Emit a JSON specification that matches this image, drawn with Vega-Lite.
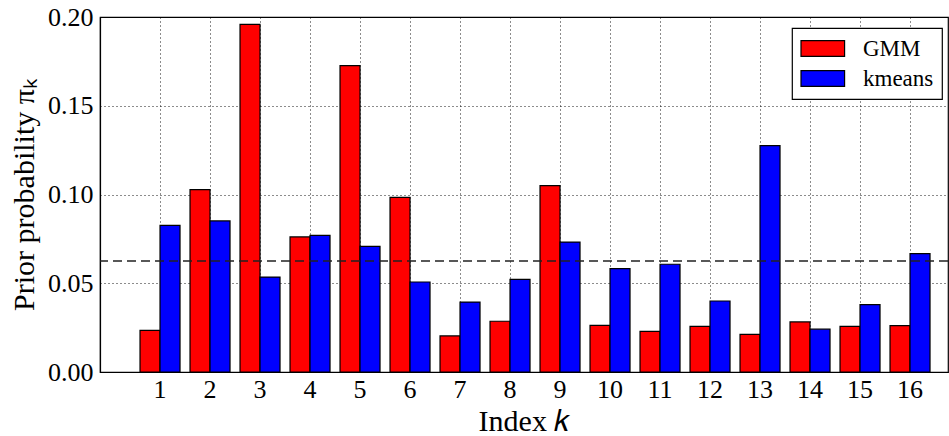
{
  "$schema": "https://vega.github.io/schema/vega-lite/v6.json",
  "width": 848,
  "height": 355,
  "autosize": {"type": "none"},
  "padding": {"left": 100, "top": 17, "right": 1, "bottom": 64},
  "background": "white",
  "config": {
    "font": "Liberation Serif",
    "view": {"stroke": "black", "strokeWidth": 1.2},
    "legend": {"strokeWidth": 1.2},
    "axis": {
      "labelFont": "Liberation Serif",
      "titleFont": "Liberation Serif",
      "labelColor": "black",
      "titleColor": "black",
      "titleFontWeight": "normal",
      "domainColor": "black",
      "domainWidth": 1.2,
      "ticks": false,
      "gridColor": "black",
      "gridDash": [1, 3],
      "gridWidth": 1,
      "gridOpacity": 0.9
    }
  },
  "layer": [
    {
      "data": {
        "values": [
          {"k": 1, "method": "GMM", "prior": 0.0235},
          {"k": 1, "method": "kmeans", "prior": 0.0826},
          {"k": 2, "method": "GMM", "prior": 0.1028},
          {"k": 2, "method": "kmeans", "prior": 0.0851},
          {"k": 3, "method": "GMM", "prior": 0.1959},
          {"k": 3, "method": "kmeans", "prior": 0.0535},
          {"k": 4, "method": "GMM", "prior": 0.0761},
          {"k": 4, "method": "kmeans", "prior": 0.0770},
          {"k": 5, "method": "GMM", "prior": 0.1726},
          {"k": 5, "method": "kmeans", "prior": 0.0708},
          {"k": 6, "method": "GMM", "prior": 0.0984},
          {"k": 6, "method": "kmeans", "prior": 0.0507},
          {"k": 7, "method": "GMM", "prior": 0.0203},
          {"k": 7, "method": "kmeans", "prior": 0.0394},
          {"k": 8, "method": "GMM", "prior": 0.0286},
          {"k": 8, "method": "kmeans", "prior": 0.0522},
          {"k": 9, "method": "GMM", "prior": 0.1050},
          {"k": 9, "method": "kmeans", "prior": 0.0732},
          {"k": 10, "method": "GMM", "prior": 0.0263},
          {"k": 10, "method": "kmeans", "prior": 0.0582},
          {"k": 11, "method": "GMM", "prior": 0.0229},
          {"k": 11, "method": "kmeans", "prior": 0.0607},
          {"k": 12, "method": "GMM", "prior": 0.0257},
          {"k": 12, "method": "kmeans", "prior": 0.0400},
          {"k": 13, "method": "GMM", "prior": 0.0212},
          {"k": 13, "method": "kmeans", "prior": 0.1275},
          {"k": 14, "method": "GMM", "prior": 0.0282},
          {"k": 14, "method": "kmeans", "prior": 0.0241},
          {"k": 15, "method": "GMM", "prior": 0.0257},
          {"k": 15, "method": "kmeans", "prior": 0.0380},
          {"k": 16, "method": "GMM", "prior": 0.0261},
          {"k": 16, "method": "kmeans", "prior": 0.0667}
        ]
      },
      "mark": {"type": "bar", "stroke": "black", "strokeWidth": 1.2, "opacity": 1},
      "encoding": {
        "x": {
          "field": "k",
          "type": "ordinal",
          "sort": "ascending",
          "scale": {"paddingInner": 0.2, "paddingOuter": 0.58, "align": 0.69},
          "axis": {
            "title": "Index 𝑘",
            "titleFontSize": 30,
            "titlePadding": 4,
            "labelFontSize": 26,
            "labelAngle": 0,
            "labelPadding": 4,
            "grid": true,
            "bandPosition": 0.5
          }
        },
        "xOffset": {
          "field": "method",
          "type": "nominal",
          "scale": {"paddingInner": 0, "paddingOuter": 0}
        },
        "y": {
          "field": "prior",
          "type": "quantitative",
          "scale": {"domain": [0, 0.2], "nice": false},
          "axis": {
            "title": "Prior probability πₖ",
            "titleFontSize": 30,
            "titlePadding": 8,
            "labelFontSize": 26,
            "labelPadding": 7,
            "values": [0, 0.05, 0.1, 0.15, 0.2],
            "format": ".2f",
            "grid": true
          }
        },
        "color": {
          "field": "method",
          "type": "nominal",
          "scale": {"domain": ["GMM", "kmeans"], "range": ["#ff0000", "#0000ff"]},
          "legend": {
            "title": null,
            "orient": "none",
            "legendX": 692,
            "legendY": 11,
            "direction": "vertical",
            "symbolType": "M-1,-0.678H2.79V0.678H-1Z",
            "symbolSize": 529,
            "symbolStrokeColor": "black",
            "symbolStrokeWidth": 1.2,
            "symbolOpacity": 1,
            "labelFont": "Liberation Serif",
            "labelFontSize": 23,
            "labelColor": "black",
            "labelOffset": 38,
            "rowPadding": 5,
            "padding": 8,
            "strokeColor": "black",
            "fillColor": "white",
            "cornerRadius": 0
          }
        }
      }
    },
    {
      "data": {"values": [{"uniform": 0.0625}]},
      "mark": {"type": "rule", "color": "#222222", "strokeWidth": 1.5, "strokeDash": [9, 5]},
      "encoding": {
        "y": {"field": "uniform", "type": "quantitative"}
      }
    }
  ]
}
